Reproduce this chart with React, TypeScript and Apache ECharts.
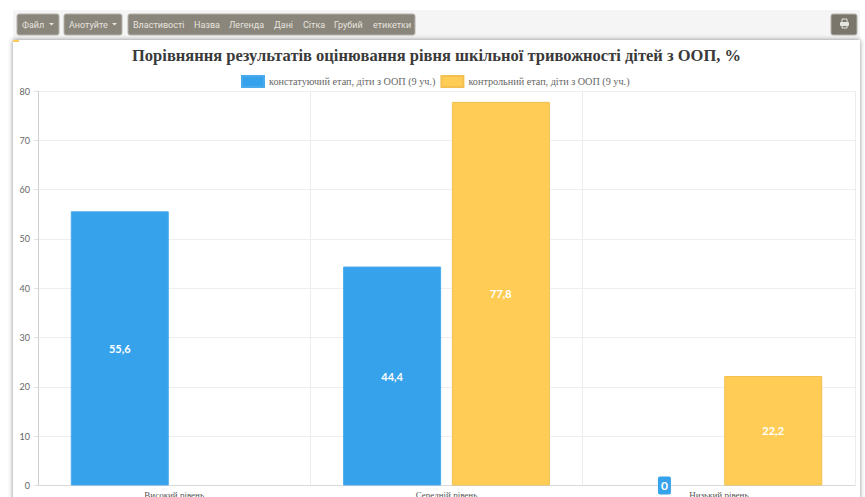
import React, { useEffect, useRef } from "react";
import * as echarts from "echarts";

const chartTitle = "Порівняння результатів оцінювання рівня шкільної тривожності дітей з ООП, %";
const categories = ["Високий рівень", "Середній рівень", "Низький рівень"];
const seriesNames = ["констатуючий етап, діти з ООП (9 уч.)", "контрольний етап, діти з ООП (9 уч.)"];
const ascertainingValues: (number | null)[] = [55.6, 44.4, 0];
const controlValues: (number | null)[] = [null, 77.8, 22.2];
const toolbarGroupItems = [
  { label: "Властивості", x: 133 },
  { label: "Назва", x: 194 },
  { label: "Легенда", x: 229 },
  { label: "Дані", x: 274 },
  { label: "Сітка", x: 303 },
  { label: "Грубий", x: 334 },
  { label: "етикетки", x: 373 },
];
const menuButtons = [
  { label: "Файл", x: 17, w: 42 },
  { label: "Анотуйте", x: 64, w: 58 },
];

const BLUE = "#36a2eb";
const YELLOW = "#ffcd56";
const BUTTON = "#8b867c";
const BUTTON_TEXT = "#e6e4df";

const toolbarText = (text: string, x: number) => ({
  type: "text",
  z: -1,
  style: { text, x, y: 24.5, fill: BUTTON_TEXT, font: "9px Roboto", textVerticalAlign: "middle" },
});

const toolbarRect = (x: number, w: number, fill = BUTTON) => ({
  type: "rect",
  z: -2,
  shape: { x, y: 14, width: w, height: 21, r: 2 },
  style: { fill, stroke: "#b5b2aa", lineWidth: 1 },
});

const caret = (x: number) => ({
  type: "polygon",
  z: -1,
  shape: { points: [[x, 23], [x + 5, 23], [x + 2.5, 25.5]] },
  style: { fill: BUTTON_TEXT },
});

// A zero-height bar keeps only its value badge: no outline is drawn for it.
const toBarData = (values: (number | null)[]) =>
  values.map((value) =>
    value === 0
      ? {
          value,
          itemStyle: { borderWidth: 0 },
          label: { show: true, position: "inside", backgroundColor: BLUE, borderRadius: 2, padding: [3, 3], fontSize: 12 },
        }
      : { value, label: { show: true, position: "inside" } }
  );

export default function App() {
  const ref = useRef<HTMLDivElement>(null);

  useEffect(() => {
    document.body.style.margin = "0";
    const chart = echarts.init(ref.current!, undefined, { renderer: "svg" });
    const sharedLabel = {
      color: "#fff",
      fontFamily: "Lato",
      fontWeight: "bold",
      fontSize: 11,
      formatter: (p: any) => String(p.value).replace(".", ","),
    };
    chart.setOption({
      animation: false,
      backgroundColor: "#fff",
      title: {
        text: chartTitle,
        left: 436.5,
        top: 47,
        padding: 0,
        textAlign: "center",
        textStyle: { fontFamily: "Liberation Serif", fontSize: 16.5, fontWeight: "bold", color: "#3a3a3a" },
      },
      legend: {
        top: 75,
        left: 241,
        padding: 0,
        itemWidth: 22,
        itemHeight: 11,
        itemGap: 5,
        icon: "rect",
        textStyle: { fontFamily: "Liberation Serif", fontSize: 10.2, color: "#666" },
      },
      grid: { left: 38, right: 10, top: 91, bottom: 11.5, outerBoundsMode: "none" },
      xAxis: {
        type: "category",
        data: categories,
        axisLine: { lineStyle: { color: "#d9d9d9" } },
        axisTick: { length: 5, lineStyle: { color: "#ececec" } },
        splitLine: { show: true, lineStyle: { color: "#ececec" } },
        axisLabel: { fontFamily: "Liberation Serif", fontSize: 9, color: "#555", margin: 5 },
      },
      yAxis: {
        type: "value",
        min: 0,
        max: 80,
        interval: 10,
        axisLine: { show: true, lineStyle: { color: "#cfcfcf" } },
        axisTick: { show: true, length: 4, lineStyle: { color: "#e2e2e2" } },
        splitLine: { lineStyle: { color: "#efefef" } },
        axisLabel: { fontFamily: "Lato", fontSize: 9, color: "#666", margin: 8 },
      },
      series: [
        {
          name: seriesNames[0],
          type: "bar",
          barWidth: 98,
          barGap: "11%",
          data: toBarData(ascertainingValues),
          itemStyle: { color: BLUE, borderColor: "#4aaaec", borderWidth: 1 },
          label: sharedLabel,
        },
        {
          name: seriesNames[1],
          type: "bar",
          barWidth: 98,
          data: toBarData(controlValues),
          itemStyle: { color: YELLOW, borderColor: "#f2c050", borderWidth: 1 },
          label: sharedLabel,
        },
      ],
      graphic: {
        elements: [
          {
            type: "rect",
            z: -5,
            shape: { x: 13, y: 10, width: 847, height: 30 },
            style: { fill: "#f5f5f5" },
          },
          {
            type: "rect",
            z: -4,
            shape: { x: 13, y: 40, width: 847, height: 470 },
            style: { fill: "#fff", shadowBlur: 5, shadowColor: "rgba(0,0,0,0.45)", shadowOffsetX: 0, shadowOffsetY: 0 },
          },
          { type: "rect", z: -3, shape: { x: 13, y: 40, width: 6, height: 2 }, style: { fill: YELLOW } },
          ...menuButtons.map((b) => toolbarRect(b.x, b.w)),
          ...menuButtons.map((b) => toolbarText(b.label, b.x + 5)),
          ...menuButtons.map((b) => caret(b.x + b.w - 10)),
          toolbarRect(128, 287),
          ...toolbarGroupItems.map((item) => toolbarText(item.label, item.x)),
          toolbarRect(831, 26, "#7a766c"),
          { type: "rect", z: -1, shape: { x: 840, y: 22, width: 9, height: 4, r: 1 }, style: { fill: BUTTON_TEXT } },
          { type: "rect", z: -1, shape: { x: 842, y: 19, width: 5, height: 9 }, style: { fill: "none", stroke: BUTTON_TEXT, lineWidth: 1 } },
        ],
      },
    });
    return () => chart.dispose();
  }, []);

  return <div ref={ref} style={{ width: 865, height: 497 }} />;
}
